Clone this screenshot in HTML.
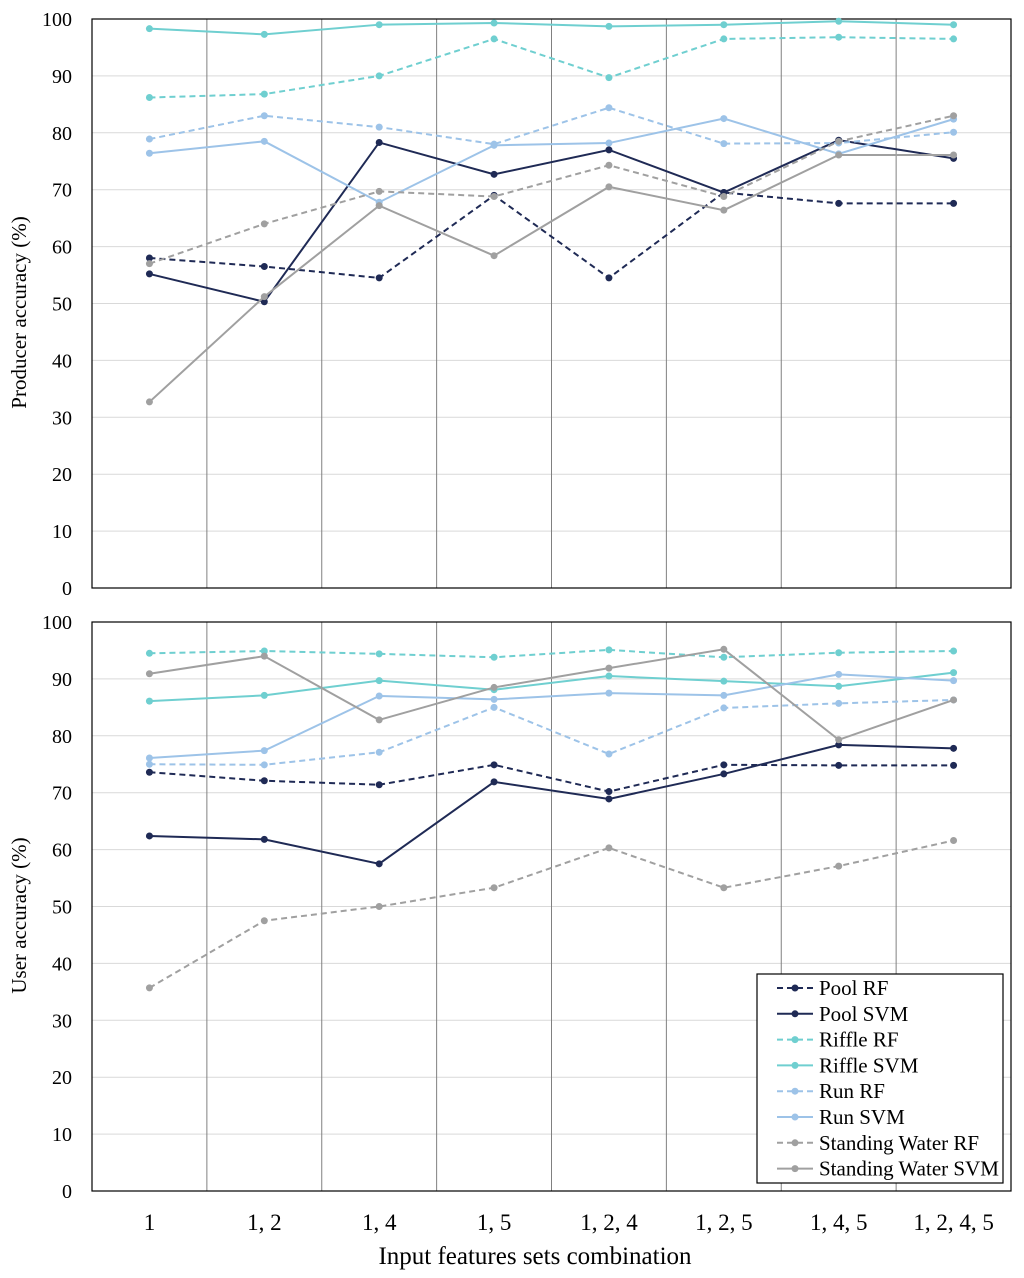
<!DOCTYPE html>
<html><head><meta charset="utf-8"><style>
html,body{margin:0;padding:0;background:#fff;}
svg{display:block;font-family:"Liberation Serif",serif;}
</style></head><body>
<svg id="chart" width="1024" height="1278" viewBox="0 0 1024 1278" xmlns="http://www.w3.org/2000/svg"></svg>
<script>
const categories = ["1","1, 2","1, 4","1, 5","1, 2, 4","1, 2, 5","1, 4, 5","1, 2, 4, 5"];
const yTicks = [0,10,20,30,40,50,60,70,80,90,100];
const seriesNames = ["Pool RF","Pool SVM","Riffle RF","Riffle SVM","Run RF","Run SVM","Standing Water RF","Standing Water SVM"];
const seriesColors = ["#1f2a55","#1f2a55","#6fcfd0","#6fcfd0","#9dc3e8","#9dc3e8","#a0a0a0","#a0a0a0"];
const seriesDashed = [true,false,true,false,true,false,true,false];
const prodPoolRF = [58,56.5,54.5,69,54.5,69.5,67.6,67.6];
const prodPoolSVM = [55.2,50.3,78.3,72.7,77,69.5,78.7,75.5];
const prodRiffleRF = [86.2,86.8,90,96.5,89.7,96.5,96.8,96.5];
const prodRiffleSVM = [98.3,97.3,99,99.3,98.7,99,99.6,99];
const prodRunRF = [78.9,83,81,78,84.4,78.1,78.2,80.1];
const prodRunSVM = [76.4,78.5,67.8,77.8,78.2,82.5,76.3,82.4];
const prodSWRF = [57,64,69.7,68.8,74.3,68.8,78.5,83];
const prodSWSVM = [32.7,51.2,67.2,58.4,70.5,66.4,76.1,76.1];
const userPoolRF = [73.6,72.1,71.4,74.9,70.2,74.9,74.8,74.8];
const userPoolSVM = [62.4,61.8,57.5,71.9,68.9,73.3,78.4,77.8];
const userRiffleRF = [94.5,94.9,94.4,93.8,95.1,93.8,94.6,94.9];
const userRiffleSVM = [86.1,87.1,89.7,88.1,90.5,89.6,88.7,91.1];
const userRunRF = [75,74.9,77.1,85,76.8,84.9,85.7,86.3];
const userRunSVM = [76.1,77.4,87,86.4,87.5,87.1,90.8,89.7];
const userSWRF = [35.7,47.5,50,53.3,60.3,53.3,57.1,61.6];
const userSWSVM = [90.9,94,82.8,88.5,91.9,95.2,79.3,86.3];

const NS="http://www.w3.org/2000/svg";
const svg=document.getElementById('chart');
function mk(tag,attrs,parent){const e=document.createElementNS(NS,tag);for(const k in attrs)e.setAttribute(k,attrs[k]);(parent||svg).appendChild(e);return e;}
const L=92,R=1011,step=(R-L)/categories.length;
const xPos=i=>L+step*(i+0.5);

function panel(name,top,bottom,title,data){
  const g=mk('g',{});
  
  
  const yPos=v=>bottom-(bottom-top)*v/100;
  yTicks.forEach(t=>{
    const ln=mk('line',{x1:L,x2:R,y1:yPos(t),y2:yPos(t),stroke:'#d9d9d9','stroke-width':1},g);
    
    
    const tx=mk('text',{x:72,y:yPos(t)+7,'text-anchor':'end','font-size':20,fill:'#000'},g);
    tx.textContent=t;
    
    
  });
  for(let i=1;i<categories.length;i++){
    const ln=mk('line',{x1:L+step*i,x2:L+step*i,y1:top,y2:bottom,stroke:'#808080','stroke-width':1},g);
    
    
  }
  const fr=mk('rect',{x:L,y:top,width:R-L,height:bottom-top,fill:'none',stroke:'#000','stroke-width':1.2},g);
  
  
  const ty=mk('text',{x:0,y:0,'text-anchor':'middle','font-size':21,transform:`translate(26,${(top+bottom)/2+9}) rotate(-90)`},g);
  ty.textContent=title;
  
  
  data.forEach((vals,s)=>{
    const pts=vals.map((v,i)=>xPos(i)+','+yPos(v)).join(' ');
    const pl=mk('polyline',{points:pts,fill:'none',stroke:seriesColors[s],'stroke-width':2,'stroke-dasharray':seriesDashed[s]?'6,4':'none'},g);
    
    
    vals.forEach((v,i)=>{
      const c=mk('circle',{cx:xPos(i),cy:yPos(v),r:3.5,fill:seriesColors[s]},g);
      
      
    });
  });
}
panel('producer-accuracy-panel',19,588,'Producer accuracy (%)',[prodPoolRF,prodPoolSVM,prodRiffleRF,prodRiffleSVM,prodRunRF,prodRunSVM,prodSWRF,prodSWSVM]);
panel('user-accuracy-panel',622,1191,'User accuracy (%)',[userPoolRF,userPoolSVM,userRiffleRF,userRiffleSVM,userRunRF,userRunSVM,userSWRF,userSWSVM]);

categories.forEach((c,i)=>{
  const t=mk('text',{x:xPos(i),y:1230,'text-anchor':'middle','font-size':23});
  t.textContent=c;
  
  
});
const xt=mk('text',{x:535,y:1264,'text-anchor':'middle','font-size':25});
xt.textContent='Input features sets combination';



const lg=mk('g',{});


mk('rect',{x:757,y:974,width:246,height:209,fill:'#fff',stroke:'#000','stroke-width':1.2},lg);
seriesNames.forEach((n,s)=>{
  const y=988+s*25.8;
  const e=mk('g',{},lg);
  
  
  mk('line',{x1:777,x2:813,y1:y,y2:y,stroke:seriesColors[s],'stroke-width':2,'stroke-dasharray':seriesDashed[s]?'6,4':'none'},e);
  mk('circle',{cx:795,cy:y,r:3.5,fill:seriesColors[s]},e);
  const t=mk('text',{x:819,y:y+7,'font-size':21},e);
  t.textContent=n;
});
</script>
</body></html>
